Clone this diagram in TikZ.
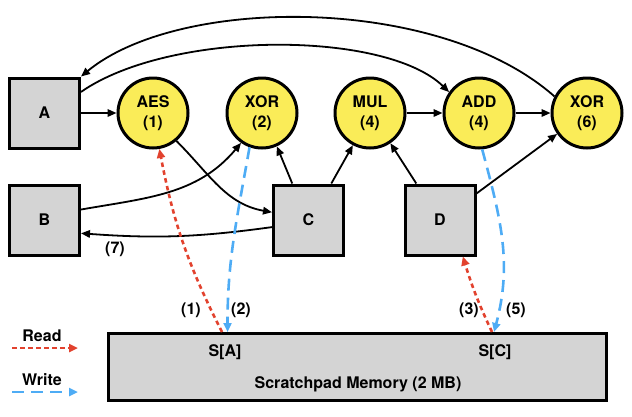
\documentclass[tikz,border=0pt]{standalone}
\usepackage{fontspec}
\setmainfont{TeX Gyre Heros}
\usetikzlibrary{arrows.meta}
\definecolor{opyellow}{RGB}{250,236,88}
\definecolor{boxgray}{RGB}{212,212,212}
\definecolor{readred}{RGB}{226,66,46}
\definecolor{writeblue}{RGB}{78,172,245}
\begin{document}
\begin{tikzpicture}[x=1pt,y=1pt,
  lbl/.style={font=\bfseries\fontsize{16}{19}\selectfont, inner sep=0pt},
  databox/.style={draw, line width=3pt, fill=boxgray, minimum size=70pt, inner sep=0pt, font=\bfseries\fontsize{16}{19}\selectfont},
  opnode/.style={circle, draw, line width=3pt, fill=opyellow, minimum size=70pt, inner sep=0pt, align=center, font=\bfseries\fontsize{16}{20}\selectfont},
  conn/.style={line width=1.8pt, -{Triangle[length=9pt,width=7.5pt]}},
  readarrow/.style={readred, line width=2.6pt, dash pattern=on 4.5pt off 3.5pt, -{Triangle[length=9pt,width=8pt]}},
  writearrow/.style={writeblue, line width=2.6pt, dash pattern=on 12pt off 7pt, -{Triangle[length=9pt,width=8pt]}},
]
\useasboundingbox (0,0) rectangle (632,-416);

% data boxes
\node[databox] (A) at (44.5,-113) {A};
\node[databox] (B) at (44.5,-220) {B};
\node[databox] (C) at (308.5,-220) {C};
\node[databox] (D) at (440,-220) {D};

% operations
\node[opnode] (AES) at (153,-113) {AES\\(1)};
\node[opnode] (XORa) at (262,-113) {XOR\\(2)};
\node[opnode] (MUL) at (370,-113) {MUL\\(4)};
\node[opnode] (ADD) at (479,-113) {ADD\\(4)};
\node[opnode] (XORb) at (587,-113) {XOR\\(6)};

% memory
\node[draw, line width=3pt, fill=boxgray, minimum width=498pt, minimum height=67pt, inner sep=0pt] (Mem) at (357.5,-367) {};
\node[lbl] (SA) at (225,-352) {S[A]};
\node[lbl] (SC) at (495,-352) {S[C]};
\node[lbl] (MemText) at (358,-384) {Scratchpad Memory (2 MB)};

% connectors
\draw[conn] (A.east) -- (AES.west);
\draw[conn] (MUL.east) -- (ADD.west);
\draw[conn] (ADD.east) -- (XORb.west);
\draw[conn] (A.30) .. controls (170,-30) and (385,-30) .. (ADD.145);
\draw[conn] (XORb.153) .. controls (440,5) and (180,5) .. (A.north east);
\draw[conn] (AES.-50) to[out=-45,in=170] (C.168);
\draw[conn] (B.16) to[out=10,in=-130] (XORa.-125);
\draw[conn] (C.191) to[bend left=6] (B.-20);
\node[lbl] (L7) at (115,-249) {(7)};
\draw[conn] (C.114) -- (XORa.-66);
\draw[conn] (C.58) -- (MUL.-118);
\draw[conn] (D.123) -- (MUL.-56);
\draw[conn] (D.36) -- (XORb.-145);

% memory traffic
\coordinate (rA) at (222,-332);
\coordinate (wA) at (227.5,-332);
\coordinate (rC) at (492,-332);
\coordinate (wC) at (494,-332);
\draw[readarrow] (rA) to[bend left=8] (AES.-80);
\draw[writearrow] (XORa.-110) to[out=-100,in=90] (wA);
\draw[readarrow] (rC) to[bend left=4] (D.-58);
\draw[writearrow] (ADD.-85) to[out=-75,in=75] (wC);
\node[lbl] (L1) at (191,-310) {(1)};
\node[lbl] (L2) at (241,-310) {(2)};
\node[lbl] (L3) at (469,-310) {(3)};
\node[lbl] (L5) at (516,-310) {(5)};

% legend
\node[lbl] (Read) at (42,-336) {Read};
\node[lbl] (Write) at (42,-380) {Write};
\coordinate (r0) at (12,-348);
\coordinate (r1) at (78,-348);
\coordinate (w0) at (12,-392);
\coordinate (w1) at (78,-392);
\draw[readarrow] (r0) -- (r1);
\draw[writearrow] (w0) -- (w1);
\end{tikzpicture}
\end{document}
